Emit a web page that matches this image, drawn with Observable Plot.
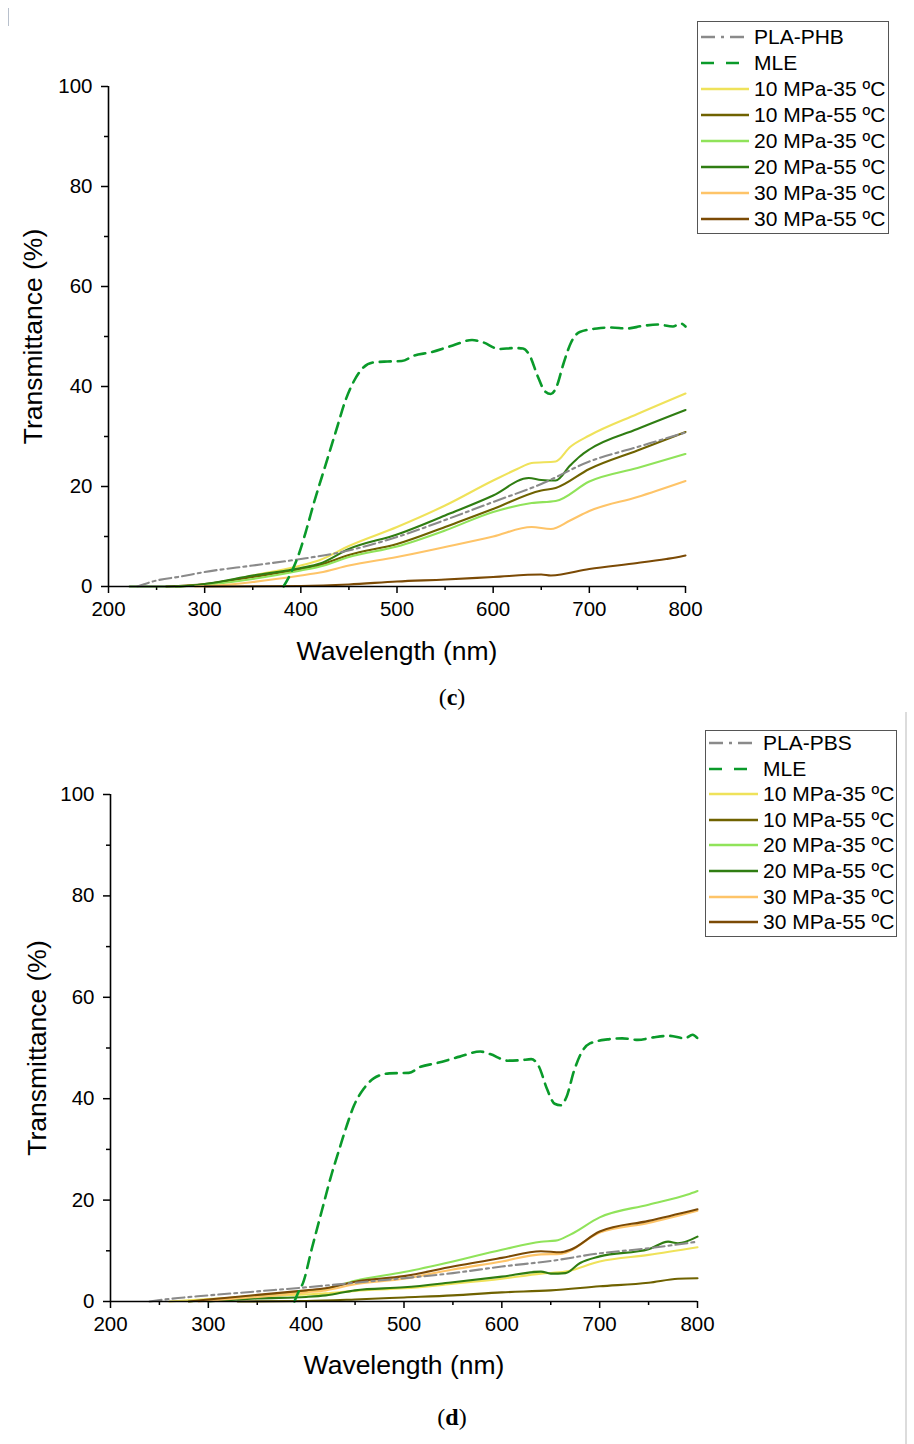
<!DOCTYPE html>
<html><head><meta charset="utf-8">
<script src="https://cdn.jsdelivr.net/npm/d3@7"></script>
<script src="https://cdn.jsdelivr.net/npm/@observablehq/plot@0.6"></script>
<style>
body{margin:0;background:#fff;}
#fig{position:relative;width:914px;height:1444px;font-family:"Liberation Sans",Arial,sans-serif;color:#000;overflow:hidden;}
.panel{position:absolute;left:0;}
.legend{position:absolute;border:1px solid #555;background:#fff;box-sizing:border-box;}
.legend .row{position:absolute;left:0;display:flex;align-items:center;height:24px;}
.legend .row span{font-size:21px;margin-left:5px;white-space:nowrap;line-height:24px;}
.plabel{position:absolute;left:0;width:904px;text-align:center;font-family:"Liberation Serif","DejaVu Serif",serif;font-size:24px;}
</style></head><body><div id="fig"></div><script>
// ---------- axis ticks ----------
const xMajor = [200, 300, 400, 500, 600, 700, 800];
const xMinor = [250, 350, 450, 550, 650, 750];
const yMajor = [0, 20, 40, 60, 80, 100];
const yMinor = [10, 30, 50, 70, 90];

// ---------- legend labels ----------
const labelsC = ["PLA-PHB", "MLE", "10 MPa-35 ºC", "10 MPa-55 ºC", "20 MPa-35 ºC", "20 MPa-55 ºC", "30 MPa-35 ºC", "30 MPa-55 ºC"];
const labelsD = ["PLA-PBS", "MLE", "10 MPa-35 ºC", "10 MPa-55 ºC", "20 MPa-35 ºC", "20 MPa-55 ºC", "30 MPa-35 ºC", "30 MPa-55 ºC"];

// ---------- panel (c) data: [wavelength nm, transmittance %] ----------
const cPHB = [[230,0],[250,1.2],[275,2.0],[300,2.9],[350,4.2],[400,5.5],[445,7.0],[500,9.9],[550,13.3],[600,16.9],[650,20.5],[700,25.0],[750,27.9],[800,30.8]];
const cMLE = [[382,0],[390,2.8],[398,6.5],[406,11.5],[414,17],[422,22],[430,27],[438,32],[446,37],[455,41],[465,43.8],[475,44.8],[490,45],[505,45.1],[518,46.2],[534,46.8],[558,48.2],[578,49.3],[590,48.8],[606,47.5],[622,47.7],[631,47.6],[638,46.2],[646,42.2],[654,39],[660,38.5],[666,40],[673,44.5],[681,48.8],[690,50.9],[708,51.6],[723,51.8],[739,51.6],[755,52.1],[771,52.4],[787,52],[795,52.6],[800,52]];
const c10_35 = [[270,0],[300,0.4],[350,2.2],[400,4.2],[420,5.3],[450,8.1],[500,11.9],[550,16.2],[600,21.2],[625,23.5],[640,24.7],[665,25.0],[680,27.9],[700,30.2],[750,34.5],[800,38.6]];
const c10_55 = [[260,0],[300,0.5],[350,1.9],[400,3.5],[420,4.3],[450,6.3],[500,8.5],[550,11.9],[600,15.5],[650,19.2],[665,19.7],[700,23.5],[750,27.2],[800,30.9]];
const c20_35 = [[270,0],[300,0.3],[350,1.5],[400,3.2],[420,4.0],[450,5.9],[500,8.0],[550,11.2],[600,14.9],[640,16.7],[665,17.1],[700,21.0],[750,23.7],[800,26.5]];
const c20_55 = [[222,0],[270,0],[300,0.5],[350,2.2],[400,3.7],[420,4.6],[450,7.5],[500,10.4],[550,14.2],[600,18.2],[637,21.7],[650,21.3],[665,21.2],[680,24.2],[690,26.0],[700,27.4],[750,31.5],[800,35.3]];
const c30_35 = [[290,0],[320,0.3],[350,0.9],[400,2.2],[420,2.8],[450,4.2],[500,5.9],[550,7.9],[600,10.0],[640,11.9],[660,11.5],[680,13.2],[700,15.1],[750,17.9],[800,21.1]];
const c30_55 = [[300,0],[400,0.1],[450,0.4],[500,1.0],[550,1.4],[600,1.9],[650,2.4],[660,2.2],[700,3.5],[750,4.7],[780,5.5],[790,5.8],[800,6.2]];

// ---------- panel (d) data ----------
const dPBS = [[240,0],[260,0.5],[300,1.2],[350,2.0],[400,2.8],[450,3.7],[500,4.6],[550,5.6],[600,6.9],[650,8.0],[700,9.5],[750,10.5],[800,11.8]];
const dMLE = [[388,0],[394,2.6],[396,3.3],[406,10.6],[416,17.9],[426,25.1],[434,30.1],[441,34.4],[449,38.7],[459,42],[469,44],[485,45],[505,45.1],[517,46.3],[533,47],[557,48.3],[578,49.3],[588,48.8],[606,47.5],[620,47.6],[630,47.8],[638,46.3],[646,42],[654,39],[660,38.7],[666,40.3],[674,45.6],[682,49.3],[690,50.9],[708,51.7],[723,51.9],[739,51.6],[755,52.1],[771,52.4],[787,51.9],[795,52.6],[800,51.9]];
const d10_35 = [[260,0],[300,0.5],[350,1.0],[400,1.4],[420,1.6],[450,2.1],[500,2.6],[550,3.5],[600,4.5],[640,5.5],[665,5.9],[700,7.9],[750,9.2],[800,10.7]];
const d10_55 = [[330,0],[400,0.1],[450,0.4],[500,0.8],[550,1.2],[600,1.8],[650,2.2],[700,3.0],[750,3.7],[780,4.5],[800,4.6]];
const d20_35 = [[280,0],[300,0.3],[350,1.2],[400,2.0],[420,2.5],[450,4.1],[500,5.8],[550,7.9],[600,10.2],[640,11.8],[655,12.0],[670,13.2],[700,16.6],[750,19.1],[790,21.1],[800,21.8]];
const d20_55 = [[300,0],[350,0.6],[400,0.9],[420,1.2],[450,2.2],[500,2.8],[550,3.8],[600,4.9],[640,5.9],[650,5.5],[665,5.6],[680,7.6],[700,8.9],[750,10.3],[770,11.8],[780,11.5],[800,12.8]];
const d30_35 = [[290,0],[350,0.9],[400,1.8],[420,2.2],[450,3.4],[500,4.5],[550,6.3],[600,7.9],[640,9.3],[660,9.4],[700,13.6],[750,15.5],[800,17.9]];
const d30_55 = [[280,0],[300,0.4],[350,1.3],[400,2.2],[420,2.6],[450,3.9],[500,5.0],[550,6.9],[600,8.6],[640,9.9],[660,9.7],[670,10.2],[700,13.8],[750,15.9],[800,18.2]];

// ---------- styles (legend order) ----------
const seriesColors = ["#8a8a8a", "#0a9a2a", "#efe25a", "#6f6200", "#90e35a", "#2f7d12", "#fec468", "#7b4a05"];
const seriesDash = ["12,4,3,4", "11,7", null, null, null, null, null, null];

const seriesDataC = [cPHB, cMLE, c10_35, c10_55, c20_35, c20_55, c30_35, c30_55];
const seriesDataD = [dPBS, dMLE, d10_35, d10_55, d20_35, d20_55, d30_35, d30_55];

const FONT = "Liberation Sans, Arial, sans-serif";

function makePanel(series, o) {
  const drawOrder = [2, 3, 4, 5, 6, 7, 0, 1];
  const lines = drawOrder.map(i => Plot.line(series[i], {
    x: d => d[0], y: d => d[1],
    stroke: seriesColors[i],
    strokeWidth: i === 1 ? 2.6 : 2.1,
    strokeDasharray: seriesDash[i] || undefined,
    curve: "monotone-x"
  }));
  return Plot.plot({
    width: 914, height: o.height,
    marginLeft: o.ml, marginRight: o.mr, marginTop: o.mt, marginBottom: o.mb,
    x: {domain: [200, 800], label: null},
    y: {domain: [0, 100], label: null},
    style: {fontFamily: FONT, color: "#000", background: "transparent", overflow: "visible"},
    marks: [
      Plot.axisX({ticks: xMajor, tickSize: 7, tickPadding: 8, fontSize: 20.5, label: null, strokeWidth: 1.5}),
      Plot.axisX({ticks: xMinor, tickSize: 4, tickFormat: () => "", label: null, strokeWidth: 1.5}),
      Plot.axisY({ticks: yMajor, tickSize: 7, tickPadding: 9, fontSize: 20.5, label: null, strokeWidth: 1.5}),
      Plot.axisY({ticks: yMinor, tickSize: 4, tickFormat: () => "", label: null, strokeWidth: 1.5}),
      ...lines,
      Plot.ruleY([0], {stroke: "#000", strokeWidth: 1.6}),
      Plot.ruleX([200], {stroke: "#000", strokeWidth: 1.6}),
      Plot.text(["Wavelength (nm)"], {frameAnchor: "bottom", dy: o.xtDy, lineAnchor: "middle", textAnchor: "middle", fontSize: 26.5, fill: "#000"}),
      Plot.text(["Transmittance (%)"], {frameAnchor: "left", dx: o.ytDx, rotate: -90, lineAnchor: "middle", textAnchor: "middle", fontSize: 26.5, fill: "#000"})
    ]
  });
}

function makeLegend(labels, o) {
  const box = document.createElement("div");
  box.className = "legend";
  Object.assign(box.style, {left: o.left + "px", top: o.top + "px", width: o.w + "px", height: o.h + "px"});
  labels.forEach((lab, i) => {
    const row = document.createElement("div");
    row.className = "row";
    row.style.top = (o.first + i * o.step - 12) + "px";
    row.style.left = o.sx + "px";
    const svg = d3.create("svg").attr("width", o.sw).attr("height", 6);
    svg.append("line").attr("x1", 0).attr("x2", o.sw).attr("y1", 3).attr("y2", 3)
      .attr("stroke", seriesColors[i]).attr("stroke-width", i === 1 ? 2.6 : 2.4)
      .attr("stroke-dasharray", i === 0 ? "14,6,3,6" : (i === 1 ? "13,12" : null));
    row.appendChild(svg.node());
    const sp = document.createElement("span");
    sp.textContent = lab;
    row.appendChild(sp);
    box.appendChild(row);
  });
  return box;
}

const fig = document.getElementById("fig");

// panel c
const pc = makePanel(seriesDataC, {height: 640, ml: 108, mr: 229, mt: 86, mb: 54, xtDy: 65, ytDx: -75});
pc.classList.add("panel"); pc.style.top = "0px";
fig.appendChild(pc);
fig.appendChild(makeLegend(labelsC, {left: 697, top: 21, w: 192, h: 213, first: 15, step: 26, sx: 3, sw: 48}));
const lc = document.createElement("div"); lc.className = "plabel"; lc.style.top = "684px";
lc.innerHTML = "(<b>c</b>)"; fig.appendChild(lc);

// panel d
const pd = makePanel(seriesDataD, {height: 640, ml: 110, mr: 217, mt: 86, mb: 47, xtDy: 64, ytDx: -73});
pd.classList.add("panel"); pd.style.top = "708px";
fig.appendChild(pd);
fig.appendChild(makeLegend(labelsD, {left: 705, top: 730, w: 192, h: 207, first: 12, step: 25.6, sx: 3, sw: 49}));
const ld = document.createElement("div"); ld.className = "plabel"; ld.style.top = "1404px";
ld.innerHTML = "(<b>d</b>)"; fig.appendChild(ld);

// page edge marks
const edge = document.createElement("div");
Object.assign(edge.style, {position: "absolute", left: "905px", top: "712px", width: "2px", height: "732px", background: "#dcdcdc"});
fig.appendChild(edge);
const mark = document.createElement("div");
Object.assign(mark.style, {position: "absolute", left: "8px", top: "8px", width: "1px", height: "18px", background: "#b8c0cc"});
fig.appendChild(mark);
</script></body></html>
